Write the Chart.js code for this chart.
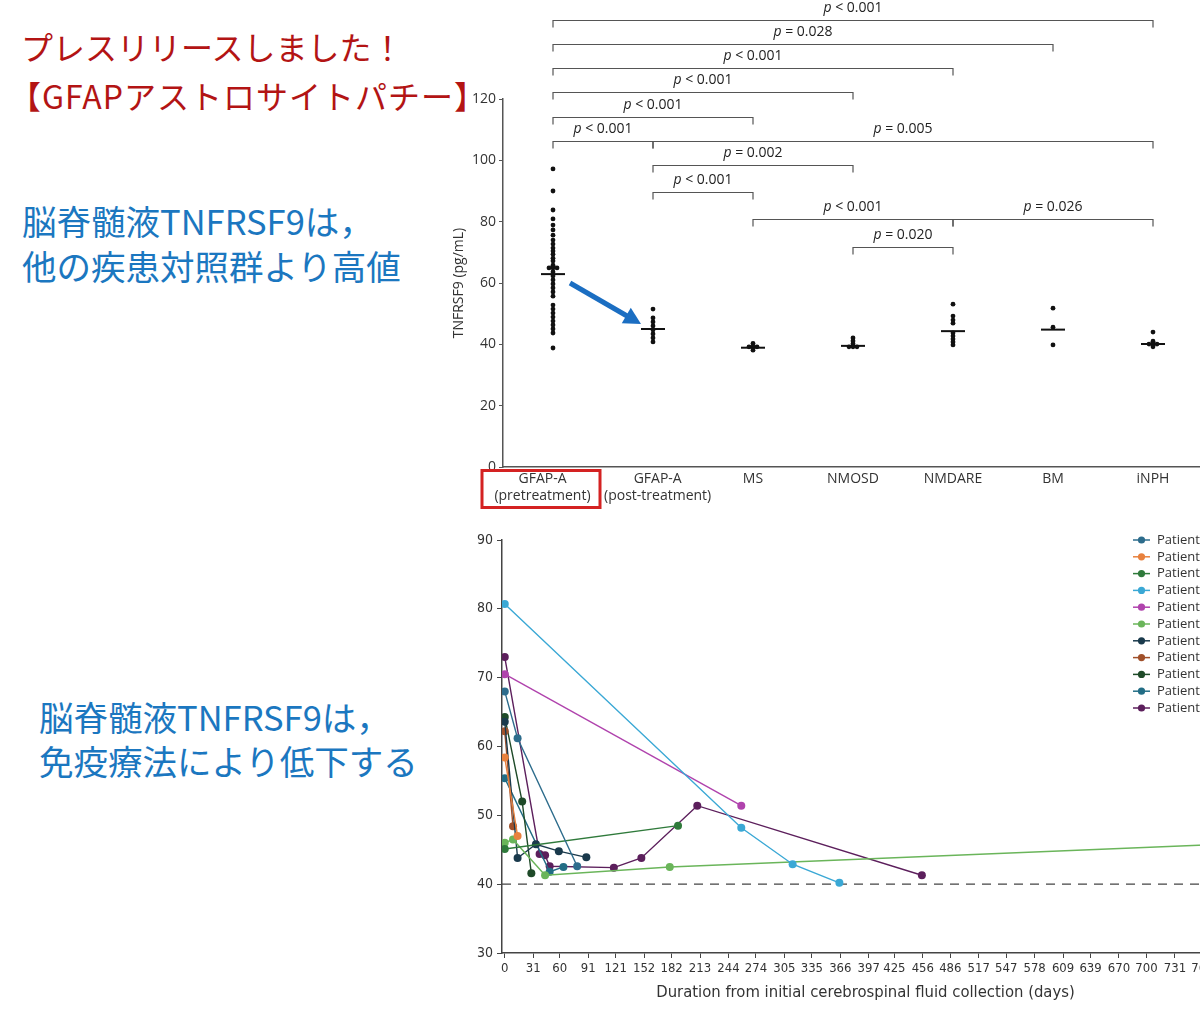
<!DOCTYPE html>
<html lang="ja">
<head>
<meta charset="utf-8">
<title>TNFRSF9</title>
<script src="https://cdn.jsdelivr.net/npm/chart.js@4.4.1/dist/chart.umd.min.js"></script>
<style>
  html, body { margin: 0; padding: 0; background: #fff; }
  body { position: relative; width: 1200px; height: 1010px; overflow: hidden; font-family: "Noto Sans CJK JP", sans-serif; }
  .note { position: absolute; white-space: nowrap; line-height: 1; }
  .red { color: #b31414; font-size: 32px; }
  .blue { color: #1b77c0; font-size: 34.5px; }
  #topChart { position: absolute; left: 440px; top: 0; }
  #followChart { position: absolute; left: 440px; top: 520px; }
</style>
</head>
<body>

<div class="note red" style="left:21px; top:30px;">プレスリリースしました！</div>
<div class="note red" style="left:9px; top:79px; letter-spacing:1px;">【GFAPアストロサイトパチー】</div>
<div class="note blue" style="left:22px; top:203px;">脳脊髄液TNFRSF9は，</div>
<div class="note blue" style="left:22px; top:248px;">他の疾患対照群より高値</div>
<div class="note blue" style="left:39px; top:699px;">脳脊髄液TNFRSF9は，</div>
<div class="note blue" style="left:39px; top:743px;">免疫療法により低下する</div>

<canvas id="topChart" width="780" height="515"></canvas>
<canvas id="followChart" width="880" height="490"></canvas>

<script>
  // top panel: CSF TNFRSF9 per group (pg/mL)
  var groupLabels = [['GFAP-A', '(pretreatment)'], ['GFAP-A', '(post-treatment)'], 'MS', 'NMOSD', 'NMDARE', 'BM', 'iNPH'];
  var gfapPre = [97.2, 90.0, 83.8, 80.9, 78.9, 77.3, 75.6, 74.0, 72.7, 71.4, 70.4, 69.4, 68.1, 67.2, 65.8,
                 64.9, 64.9, 64.9, 63.6, 62.3, 61.0, 59.7, 58.4, 57.1, 55.7, 52.8, 51.5, 50.2, 48.9, 47.6,
                 46.3, 45.0, 43.7, 38.8];
  var gfapPost = [51.5, 48.6, 47.3, 46.0, 44.7, 43.4, 42.1, 40.8];
  var msVals = [40.3, 39.2, 39.2, 39.2, 38.1];
  var nmosdVals = [42.1, 41.1, 40.2, 39.2, 39.2, 39.2];
  var nmdareVals = [53.1, 49.2, 47.9, 46.9, 43.7, 42.7, 41.7, 40.8, 39.8];
  var bmVals = [51.8, 45.6, 39.8];
  var inphVals = [44.0, 41.0, 40.1, 40.1, 40.1, 39.2];
  var groupMedians = [62.9, 45.0, 38.9, 39.5, 44.3, 44.8, 40.1];
  var topTicks = [0, 20, 40, 60, 80, 100, 120];

  var comparisons = [[0, 6], [0, 5], [0, 4], [0, 3], [0, 2], [0, 1], [1, 6], [1, 3], [1, 2], [2, 4], [4, 6], [3, 4]];
  var pTexts = ['< 0.001', '= 0.028', '< 0.001', '< 0.001', '< 0.001', '< 0.001', '= 0.005', '= 0.002', '< 0.001', '< 0.001', '= 0.026', '= 0.020'];

  // bottom panel: follow-up per patient
  var dayTicks = [0, 31, 60, 91, 121, 152, 182, 213, 244, 274, 305, 335, 366, 397, 425, 456, 486, 517, 547, 578, 609, 639, 670, 700, 731, 761];
  var patientNames = ['Patient 1', 'Patient 2', 'Patient 3', 'Patient 4', 'Patient 5', 'Patient 6', 'Patient 7', 'Patient 8', 'Patient 9', 'Patient 10', 'Patient 11'];
  var p1Days = [0, 14, 79],    p1Vals = [68.0, 61.2, 42.6];
  var p2Days = [0, 14],        p2Vals = [58.4, 47.0];
  var p3Days = [0, 189],       p3Vals = [45.1, 48.5];
  var p4Days = [0, 258, 314, 365], p4Vals = [80.7, 48.2, 42.9, 40.2];
  var p5Days = [0, 258],       p5Vals = [70.5, 51.4];
  var p6Days = [0, 9, 44, 180, 800], p6Vals = [46.0, 46.5, 41.3, 42.5, 45.9];
  var p7Days = [0, 14, 34, 59, 89], p7Vals = [63.6, 43.8, 45.8, 44.8, 43.9];
  var p8Days = [0, 9],         p8Vals = [62.2, 48.4];
  var p9Days = [0, 19, 29],    p9Vals = [64.3, 52.0, 41.6];
  var p10Days = [0, 49, 64],   p10Vals = [55.4, 41.8, 42.5];
  var p11Days = [0, 38, 44, 49, 119, 149, 210, 455], p11Vals = [73.0, 44.4, 44.2, 42.6, 42.4, 43.8, 51.4, 41.3];
  var referenceLevel = 40;

  var patientColors = ['#2d6c8c', '#e8813e', '#2f7a3b', '#3aa8d5', '#b043ad', '#6ab55a',
                       '#1a3a4c', '#a0502a', '#1e4a28', '#226d85', '#5c1f5c'];

  var openSans = "'Open Sans', sans-serif";
  var narrow = "'Liberation Sans Narrow', 'DejaVu Sans Condensed', sans-serif";

  // the two GFAP-A labels sit a little off their columns in the original
  var labelLines = function(v) {
    if (v === 0) return groupLabels[0].map(function(t) { return t + '\u2003\u2002'; });
    if (v === 1) return groupLabels[1].map(function(t) { return '\u2002\u2009' + t; });
    return groupLabels[v];
  };

  // simple beeswarm: push coinciding dots sideways
  var swarm = function(vals, idx) {
    var placed = [];
    var steps = [0, -1, 1, -2, 2];
    return vals.map(function(v) {
      var off = 0;
      for (var k = 0; k < steps.length; k++) {
        var s = steps[k];
        var clash = placed.some(function(p) { return p.s === s && Math.abs(p.v - v) < 0.8; });
        if (!clash) { off = s; break; }
      }
      placed.push({ s: off, v: v });
      return { x: idx + off * 0.04, y: v };
    });
  };

  var groups = [gfapPre, gfapPost, msVals, nmosdVals, nmdareVals, bmVals, inphVals];
  var dots = [];
  groups.forEach(function(g, i) { dots = dots.concat(swarm(g, i)); });

  // significance brackets + arrow + red box on the top chart
  var bracketPlugin = {
    id: 'brackets',
    afterDatasetsDraw: function(chart, args, opts) {
      var ctx = chart.ctx, x = chart.scales.x, y = chart.scales.y;
      ctx.save();
      ctx.strokeStyle = '#555';
      ctx.lineWidth = 1.2;
      ctx.fillStyle = '#222';
      ctx.textBaseline = 'middle';
      ctx.textAlign = 'left';
      comparisons.forEach(function(pair, k) {
        var x1 = x.getPixelForValue(pair[0]), x2 = x.getPixelForValue(pair[1]);
        var yy = Math.round(y.getPixelForValue(opts.levels[k])) + 0.5;
        ctx.beginPath();
        ctx.moveTo(x1, yy + 7);
        ctx.lineTo(x1, yy);
        ctx.lineTo(x2, yy);
        ctx.lineTo(x2, yy + 7);
        ctx.stroke();

        var rest = ' ' + pTexts[k];
        ctx.font = 'italic 14px ' + openSans;
        var pw = ctx.measureText('p').width;
        ctx.font = '14px ' + openSans;
        var rw = ctx.measureText(rest).width;
        var sx = (x1 + x2) / 2 - (pw + rw) / 2, ty = yy - 12.5;
        ctx.font = 'italic 14px ' + openSans;
        ctx.fillText('p', sx, ty);
        ctx.font = '14px ' + openSans;
        ctx.fillText(rest, sx + pw, ty);
      });
      ctx.restore();
    }
  };

  var arrowPlugin = {
    id: 'arrow',
    afterDatasetsDraw: function(chart, args, opts) {
      var ctx = chart.ctx, x = chart.scales.x, y = chart.scales.y;
      var x1 = x.getPixelForValue(opts.from[0]), y1 = y.getPixelForValue(opts.from[1]);
      var x2 = x.getPixelForValue(opts.to[0]), y2 = y.getPixelForValue(opts.to[1]);
      var a = Math.atan2(y2 - y1, x2 - x1), head = 17;
      ctx.save();
      ctx.strokeStyle = opts.color;
      ctx.fillStyle = opts.color;
      ctx.lineWidth = 5;
      ctx.beginPath();
      ctx.moveTo(x1, y1);
      ctx.lineTo(x2 - head * 0.8 * Math.cos(a), y2 - head * 0.8 * Math.sin(a));
      ctx.stroke();
      ctx.beginPath();
      ctx.moveTo(x2, y2);
      ctx.lineTo(x2 - head * Math.cos(a) + 9 * Math.sin(a), y2 - head * Math.sin(a) - 9 * Math.cos(a));
      ctx.lineTo(x2 - head * Math.cos(a) - 9 * Math.sin(a), y2 - head * Math.sin(a) + 9 * Math.cos(a));
      ctx.closePath();
      ctx.fill();
      ctx.restore();
    }
  };

  var boxPlugin = {
    id: 'labelBox',
    afterDraw: function(chart) {
      var ctx = chart.ctx, x = chart.scales.x, area = chart.chartArea;
      var cx = x.getPixelForValue(0);
      ctx.save();
      ctx.strokeStyle = '#d42222';
      ctx.lineWidth = 3;
      ctx.strokeRect(cx - 71, area.bottom + 3.5, 118, 37);
      ctx.restore();
    }
  };

  new Chart(document.getElementById('topChart'), {
    type: 'scatter',
    data: {
      datasets: [{
        data: dots,
        pointRadius: 2.4,
        pointBackgroundColor: '#111',
        pointBorderWidth: 0
      }, {
        data: groupMedians.map(function(m, i) { return { x: i, y: m }; }),
        pointStyle: 'line',
        pointRadius: 12,
        borderColor: '#111',
        pointBorderColor: '#111',
        pointBorderWidth: 2
      }]
    },
    options: {
      responsive: false,
      animation: false,
      layout: { padding: { top: 99, right: 17, left: 0, bottom: 0 } },
      plugins: {
        legend: { display: false },
        tooltip: { enabled: false },
        brackets: { levels: [145.7, 137.9, 130.1, 122.3, 114.1, 106.3, 106.3, 98.5, 89.7, 80.9, 80.9, 71.7] },
        arrow: { from: [0.17, 60.0], to: [0.88, 46.6], color: '#1b6ec2' }
      },
      scales: {
        x: {
          type: 'linear',
          min: -0.5,
          max: 6.5,
          afterBuildTicks: function(s) { s.ticks = groupLabels.map(function(l, i) { return { value: i }; }); },
          afterFit: function(s) { s.height = 48; },
          grid: { display: false, drawTicks: false },
          border: { color: '#555', width: 1.5 },
          ticks: {
            autoSkip: false,
            maxRotation: 0,
            padding: 4,
            color: '#333',
            font: { family: openSans, size: 14 },
            callback: labelLines
          }
        },
        y: {
          min: 0,
          max: 120,
          afterBuildTicks: function(s) { s.ticks = topTicks.map(function(v) { return { value: v }; }); },
          afterFit: function(s) { s.width = 63; },
          grid: { drawOnChartArea: false, tickLength: 4, color: '#555' },
          border: { color: '#555', width: 1.5 },
          ticks: { color: '#333', padding: 3, font: { family: openSans, size: 14 } },
          title: {
            display: true,
            text: 'TNFRSF9 (pg/mL)',
            color: '#333',
            font: { family: openSans, size: 14 },
            padding: { top: 11, bottom: 0 }
          }
        }
      }
    },
    plugins: [bracketPlugin, arrowPlugin, boxPlugin]
  });

  // legend drawn inside the plot, top right
  var patientLegend = {
    id: 'patientLegend',
    afterDraw: function(chart) {
      var ctx = chart.ctx, area = chart.chartArea;
      var lx = area.right - 96;
      ctx.save();
      ctx.font = '13px ' + openSans;
      ctx.textBaseline = 'middle';
      ctx.textAlign = 'left';
      patientNames.forEach(function(name, i) {
        var ly = area.top + i * 16.8;
        ctx.strokeStyle = patientColors[i];
        ctx.fillStyle = patientColors[i];
        ctx.lineWidth = 1.5;
        ctx.beginPath();
        ctx.moveTo(lx, ly);
        ctx.lineTo(lx + 17, ly);
        ctx.stroke();
        ctx.beginPath();
        ctx.arc(lx + 8.5, ly, 3.6, 0, Math.PI * 2);
        ctx.fill();
        ctx.fillStyle = '#333';
        ctx.fillText(name, lx + 24, ly);
      });
      ctx.restore();
    }
  };

  var patientDays = [p1Days, p2Days, p3Days, p4Days, p5Days, p6Days, p7Days, p8Days, p9Days, p10Days, p11Days];
  var patientVals = [p1Vals, p2Vals, p3Vals, p4Vals, p5Vals, p6Vals, p7Vals, p8Vals, p9Vals, p10Vals, p11Vals];

  var followSets = patientNames.map(function(name, i) {
    return {
      label: name,
      data: patientDays[i].map(function(d, j) { return { x: d, y: patientVals[i][j] }; }),
      showLine: true,
      borderColor: patientColors[i],
      backgroundColor: patientColors[i],
      borderWidth: 1.4,
      pointRadius: 4,
      pointBorderWidth: 0
    };
  });
  followSets.push({
    label: 'reference',
    data: [{ x: -3, y: referenceLevel }, { x: 790, y: referenceLevel }],
    showLine: true,
    borderColor: '#444',
    borderWidth: 1.3,
    borderDash: [9, 7],
    pointRadius: 0
  });

  new Chart(document.getElementById('followChart'), {
    type: 'scatter',
    data: { datasets: followSets },
    options: {
      responsive: false,
      animation: false,
      layout: { padding: { top: 20, right: 91, left: 0, bottom: 0 } },
      plugins: { legend: { display: false }, tooltip: { enabled: false } },
      scales: {
        x: {
          type: 'linear',
          min: -3,
          max: 790,
          afterBuildTicks: function(s) { s.ticks = dayTicks.map(function(v) { return { value: v }; }); },
          afterFit: function(s) { s.height = 57; },
          grid: { drawOnChartArea: false, tickLength: 5, color: '#444' },
          border: { color: '#444', width: 1.5 },
          ticks: { autoSkip: false, maxRotation: 0, padding: 3, color: '#333', font: { family: narrow, size: 13 } },
          title: {
            display: true,
            text: 'Duration from initial cerebrospinal fluid collection (days)',
            color: '#333',
            font: { family: narrow, size: 16.5 },
            padding: { top: 0, bottom: 7 }
          }
        },
        y: {
          min: 30,
          max: 90,
          ticks: { stepSize: 10, padding: 4, color: '#333', font: { family: narrow, size: 14 } },
          afterFit: function(s) { s.width = 62; },
          grid: { drawOnChartArea: false, tickLength: 5, color: '#444' },
          border: { color: '#444', width: 1.5 }
        }
      }
    },
    plugins: [patientLegend]
  });
</script>
</body>
</html>
